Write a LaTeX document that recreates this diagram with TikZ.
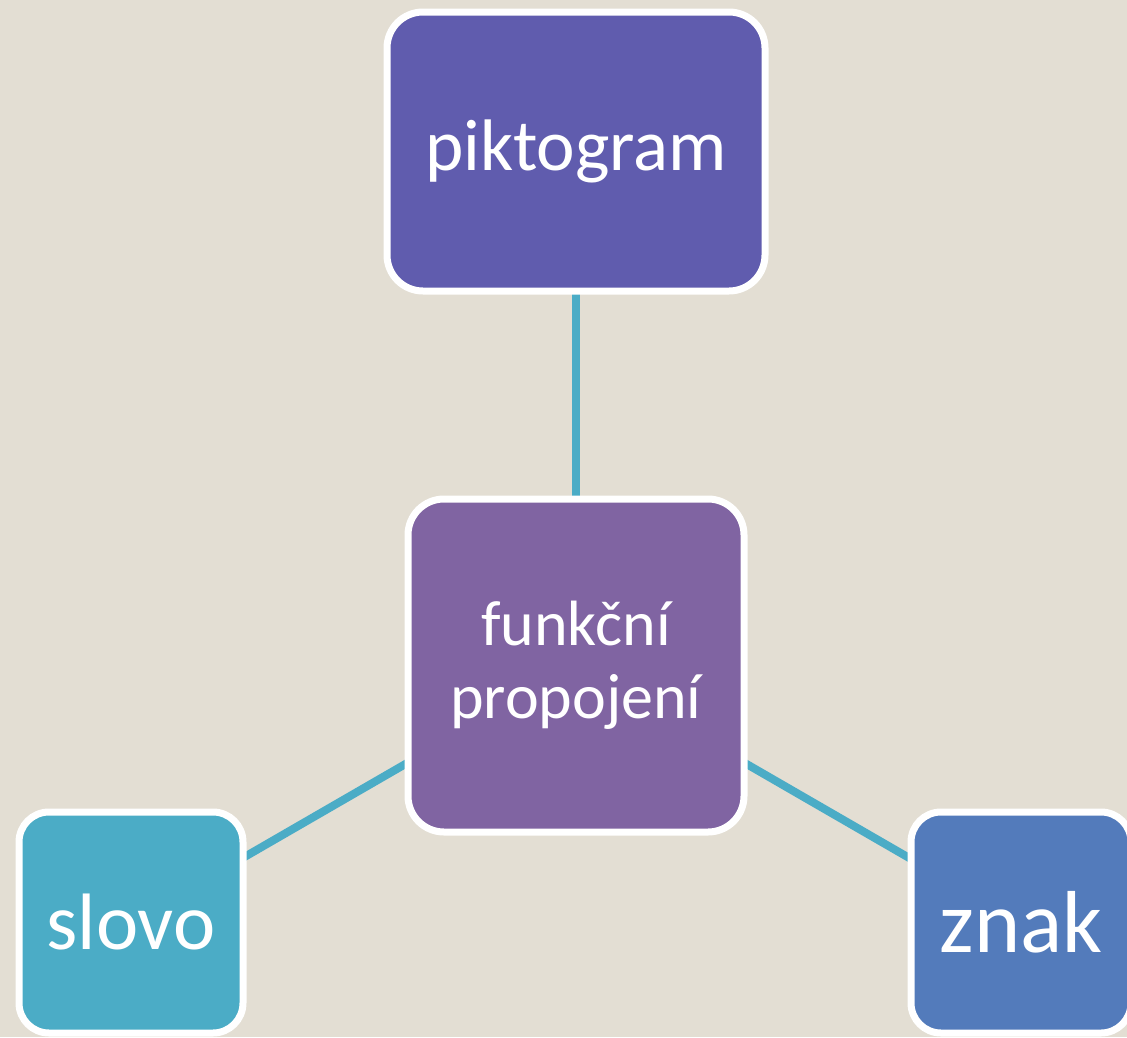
\documentclass[tikz,border=0pt]{standalone}
\usepackage{fontspec}
\setmainfont{Carlito}
\usetikzlibrary{backgrounds}
\definecolor{bgc}{HTML}{E3DED3}
\definecolor{cpik}{HTML}{605CAE}
\definecolor{cfun}{HTML}{8064A2}
\definecolor{cslo}{HTML}{4BACC6}
\definecolor{czna}{HTML}{537BBB}
\definecolor{clink}{HTML}{4BACC6}
\begin{document}
\begin{tikzpicture}[x=1pt,y=-1pt,
  box/.style={draw=white, line width=7pt, rounded corners=36pt, text=white,
    align=center, inner sep=0pt},
  link/.style={draw=clink, line width=8pt}]
\begin{scope}[on background layer]
\fill[bgc] (0,0) rectangle (1127,1037);
\end{scope}
\useasboundingbox (0,0) rectangle (1127,1037);
\node[box, fill=cpik, minimum width=378pt, minimum height=279pt, font=\fontsize{73}{88}\selectfont] (pik) at (576,151.5) {piktogram};
\node[box, fill=cfun, minimum width=336pt, minimum height=333pt, font=\fontsize{64}{73}\selectfont] (fun) at (576,665.5) {funkční\\propojení};
\node[box, fill=cslo, rounded corners=30pt, minimum width=224pt, minimum height=221pt, font=\fontsize{80}{96}\selectfont] (slo) at (131,922.5) {slovo};
\node[box, fill=czna, rounded corners=30pt, minimum width=220pt, minimum height=221pt, font=\fontsize{88}{106}\selectfont] (zna) at (1021,922.5) {znak};
\begin{scope}[on background layer]
\draw[link] (pik.center) -- (fun.center);
\draw[link] (fun.center) -- (slo.center);
\draw[link] (fun.center) -- (zna.center);
\end{scope}
\end{tikzpicture}
\end{document}
